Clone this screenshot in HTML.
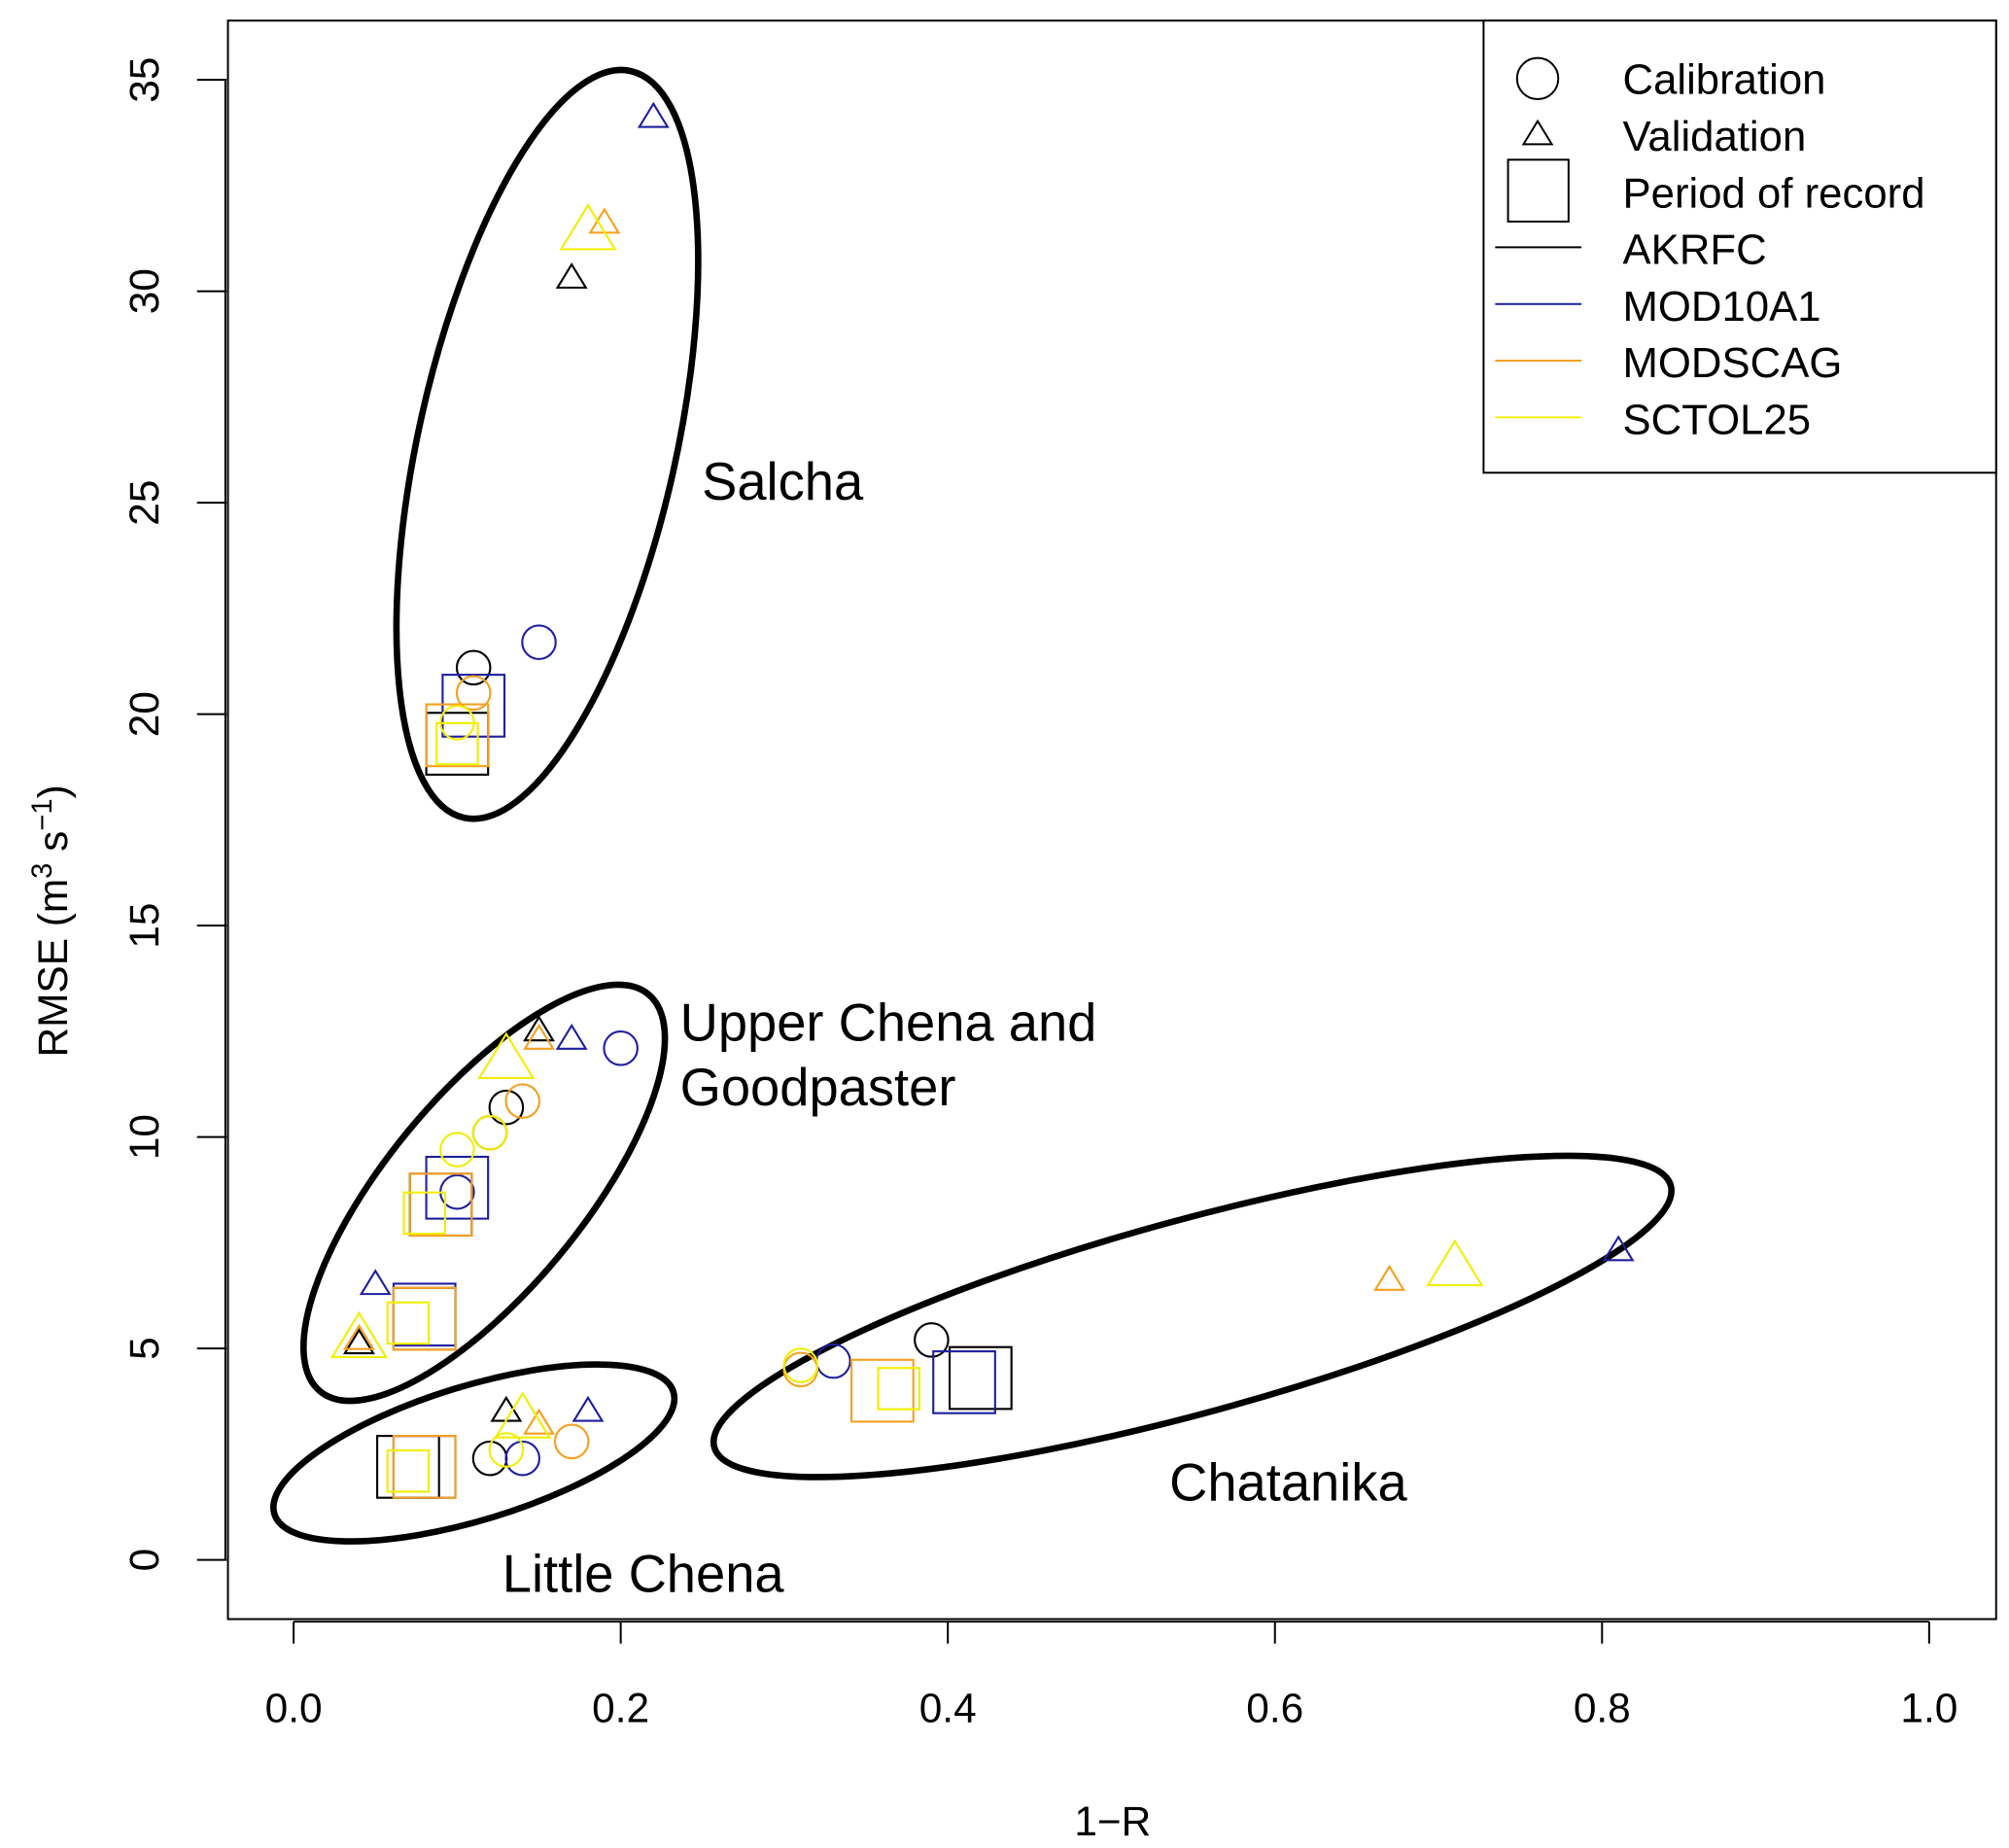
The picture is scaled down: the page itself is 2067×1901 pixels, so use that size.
<!DOCTYPE html>
<html><head><meta charset="utf-8"><style>
html,body{margin:0;padding:0;background:#fff}
svg{display:block;font-family:"Liberation Sans",Arial,sans-serif}
</style></head><body>
<svg id="chart" width="2067" height="1901" viewBox="0 0 1560 1434.7" xmlns="http://www.w3.org/2000/svg">
<rect x="0" y="0" width="1560" height="1435" fill="#fff"/>
<rect x="177" y="16" width="1373" height="1241" fill="none" stroke="#000" stroke-width="1.5"/>
<g id="axes"></g>
<g id="ellipses" fill="none" stroke="#000" stroke-width="5">
<ellipse cx="425" cy="345" rx="100" ry="297" transform="rotate(12.6 425 345)"/>
<ellipse cx="376" cy="926" rx="76" ry="200" transform="rotate(39.6 376 926)"/>
<ellipse cx="368" cy="1128" rx="162" ry="52" transform="rotate(-17 368 1128)"/>
<ellipse cx="926" cy="1022" rx="385" ry="75" transform="rotate(-15.3 926 1022)"/>
</g>
<g font-size="41" fill="#000">
<text x="545" y="388">Salcha</text>
<text x="528" y="808">Upper Chena and</text>
<text x="528" y="858">Goodpaster</text>
<text x="908" y="1165">Chatanika</text>
<text x="390" y="1236">Little Chena</text>
</g>
<g id="marks" fill="none" stroke-width="1.6"></g>
<g id="legend">
<rect x="1152" y="16" width="398" height="351" fill="#fff" stroke="#000" stroke-width="1.5"/>
<circle cx="1194" cy="61" r="16" fill="none" stroke="#000" stroke-width="1.5"/>
<polygon points="1194,94 1205,112 1183,112" fill="none" stroke="#000" stroke-width="1.5"/>
<rect x="1171" y="124" width="47" height="48" fill="none" stroke="#000" stroke-width="1.5"/>
<line x1="1161" y1="192" x2="1228" y2="192" stroke="#000" stroke-width="1.5"/>
<line x1="1161" y1="236" x2="1228" y2="236" stroke="#1f1fa0" stroke-width="1.5"/>
<line x1="1161" y1="280" x2="1228" y2="280" stroke="#f5a020" stroke-width="1.5"/>
<line x1="1161" y1="324" x2="1228" y2="324" stroke="#f2ee00" stroke-width="1.5"/>
<g font-size="33">
<text x="1260" y="73">Calibration</text>
<text x="1260" y="117">Validation</text>
<text x="1260" y="161">Period of record</text>
<text x="1260" y="205">AKRFC</text>
<text x="1260" y="249">MOD10A1</text>
<text x="1260" y="293">MODSCAG</text>
<text x="1260" y="337">SCTOL25</text>
</g>
</g>
<text x="864" y="1425" font-size="32" text-anchor="middle">1−R</text>
<text transform="translate(52 715) rotate(-90)" font-size="32" text-anchor="middle">RMSE (m<tspan font-size="22" dy="-12">3</tspan><tspan dy="12"> s</tspan><tspan font-size="22" dy="-12">−1</tspan><tspan dy="12">)</tspan></text>
</svg>
<script>
const xTicks = [0.0, 0.2, 0.4, 0.6, 0.8, 1.0];
const xTickLabels = ["0.0", "0.2", "0.4", "0.6", "0.8", "1.0"];
const yTicks = [0, 5, 10, 15, 20, 25, 30, 35];
const yTickLabels = ["0", "5", "10", "15", "20", "25", "30", "35"];
const seriesNames = ["AKRFC", "MOD10A1", "MODSCAG", "SCTOL25"];
// Calibration (circles)
const calX = [[0.11, 0.13, 0.12, 0.39, 0.12],[0.15, 0.20, 0.10, 0.33, 0.14],[0.11, 0.14, 0.12, 0.31, 0.17],[0.10, 0.10, 0.12, 0.31, 0.13]];
const calY = [[21.1, 10.7, 10.1, 5.2, 2.4],[21.7, 12.1, 8.7, 4.7, 2.4],[20.5, 10.85, 10.1, 4.5, 2.8],[19.8, 9.7, 10.1, 4.6, 2.6]];
// Validation (triangles)
const valX = [[0.17, 0.15, 0.04, 0.13],[0.22, 0.17, 0.05, 0.18, 0.81],[0.19, 0.15, 0.04, 0.15, 0.67],[0.18, 0.13, 0.04, 0.14, 0.71]];
const valY = [[30.3, 12.5, 5.1, 3.5],[34.1, 12.3, 6.5, 3.5, 7.3],[31.6, 12.3, 5.2, 3.2, 6.6],[31.4, 11.8, 5.2, 3.3, 6.9]];
// Period of record (squares)
const porX = [[0.10, 0.09, 0.08, 0.07, 0.42],[0.11, 0.10, 0.08, 0.08, 0.41],[0.10, 0.09, 0.08, 0.08, 0.36],[0.10, 0.08, 0.07, 0.07, 0.37]];
const porY = [[19.3, 8.4, 5.7, 2.2, 4.3],[20.2, 8.8, 5.8, 2.2, 4.2],[19.5, 8.4, 5.7, 2.2, 4.0],[19.3, 8.2, 5.6, 2.1, 4.05]];

const colors = ["#000000", "#1f1fa0", "#f5a020", "#f2ee00"];
const triSize = [10, 10, 10, 19];
const sqSize = [24, 24, 24, 16];
const NS = "http://www.w3.org/2000/svg";
const X0 = 228, X1 = 1498, Y0 = 1211, Y35 = 62;
function sx(v){ return X0 + v * (X1 - X0); }
function sy(v){ return Y0 - v * (Y0 - Y35) / 35; }
function mk(tag, attrs, parent){ const e = document.createElementNS(NS, tag); for (const k in attrs) e.setAttribute(k, attrs[k]); parent.appendChild(e); return e; }

const axes = document.getElementById("axes");
mk("line", {x1: sx(xTicks[0]), y1: 1259, x2: sx(xTicks[xTicks.length-1]), y2: 1259, stroke: "#000", "stroke-width": 1.5}, axes);
xTicks.forEach((t, i) => {
  const l = mk("line", {x1: sx(t), y1: 1259, x2: sx(t), y2: 1276, stroke: "#000", "stroke-width": 1.5}, axes);
  
  
  const tx = mk("text", {x: sx(t), y: 1337, "font-size": 32, "text-anchor": "middle"}, axes);
  tx.textContent = xTickLabels[i];
  
  
});
mk("line", {x1: 175, y1: sy(yTicks[0]), x2: 175, y2: sy(yTicks[yTicks.length-1]), stroke: "#000", "stroke-width": 1.5}, axes);
yTicks.forEach((t, i) => {
  const l = mk("line", {x1: 153, y1: sy(t), x2: 176, y2: sy(t), stroke: "#000", "stroke-width": 1.5}, axes);
  
  
  const tx = mk("text", {transform: "translate(123 " + sy(t) + ") rotate(-90)", "font-size": 32, "text-anchor": "middle"}, axes);
  tx.textContent = yTickLabels[i];
  
  
});

const marks = document.getElementById("marks");
for (let s = 0; s < seriesNames.length; s++) {
  const c = colors[s];
  for (let i = 0; i < porX[s].length; i++) {
    const h = sqSize[s];
    const r = mk("rect", {x: sx(porX[s][i]) - h, y: sy(porY[s][i]) - h, width: 2*h, height: 2*h, stroke: c}, marks);
    
    
  }
  for (let i = 0; i < calX[s].length; i++) {
    const ci = mk("circle", {cx: sx(calX[s][i]), cy: sy(calY[s][i]), r: 13, stroke: c}, marks);
    
    
  }
  for (let i = 0; i < valX[s].length; i++) {
    const x = sx(valX[s][i]), y = sy(valY[s][i]), h = triSize[s];
    const p = mk("polygon", {points: x + "," + (y - h*1.1) + " " + (x + h*1.1) + "," + (y + h*0.7) + " " + (x - h*1.1) + "," + (y + h*0.7), stroke: c}, marks);
    
    
  }
}
</script>
</body></html>
